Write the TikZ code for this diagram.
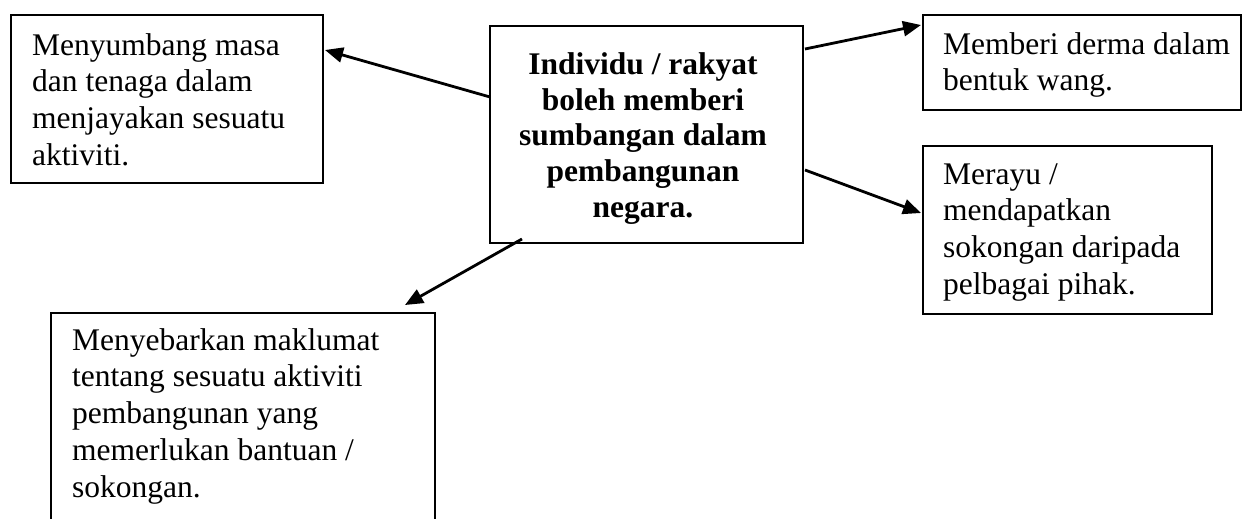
\documentclass[tikz,border=0pt]{standalone}
\usepackage{fontspec}
\setmainfont{Liberation Serif}
\usetikzlibrary{calc,arrows.meta}
\begin{document}
\begin{tikzpicture}[x=1pt,y=-1pt,
  boxnode/.style={draw=black,line width=2pt,inner sep=0pt,anchor=north west},
  txt/.style={inner sep=0pt,anchor=north west,align=left,font=\fontsize{31.5}{36.7}\selectfont},
  ctxt/.style={inner sep=0pt,anchor=north,align=center,font=\fontsize{31.5}{35.8}\selectfont\bfseries},
  arr/.style={line width=2.8pt,-{Triangle[length=18pt,width=15pt]}}]
\useasboundingbox[fill=white] (0,0) rectangle (1243,519);
% boxes
\node[boxnode,minimum width=312pt,minimum height=168pt] (L) at (10,14) {};
\node[boxnode,minimum width=313pt,minimum height=217pt] (C) at (489,25) {};
\node[boxnode,minimum width=318pt,minimum height=95pt] (RT) at (922,14) {};
\node[boxnode,minimum width=289pt,minimum height=168pt] (RM) at (922,145) {};
\node[boxnode,minimum width=384pt,minimum height=240pt] (B) at (50,312) {};
% texts
\node[txt] (Lt) at (32,30) {\rule{0pt}{25pt}Menyumbang masa\\dan tenaga dalam\\menjayakan sesuatu\\aktiviti.};
\node[ctxt] (Ct) at (643,49) {\rule{0pt}{25pt}Individu / rakyat\\boleh memberi\\sumbangan dalam\\pembangunan\\negara.};
\node[txt] (RTt) at (943,29) {\rule{0pt}{25pt}Memberi derma dalam\\bentuk wang.};
\node[txt] (RMt) at (943,159) {\rule{0pt}{25pt}Merayu /\\mendapatkan\\sokongan daripada\\pelbagai pihak.};
\node[txt] (Bt) at (72,325) {\rule{0pt}{25pt}Menyebarkan maklumat\\tentang sesuatu aktiviti\\pembangunan yang\\memerlukan bantuan /\\sokongan.};
% connectors
\draw[arr] ($(C.north west)+(1,72)$) -- ($(L.north east)+(1,36)$);
\draw[arr] ($(C.north east)+(1,24)$) -- ($(RT.north west)+(-1,11)$);
\draw[arr] ($(C.north east)+(1,145)$) -- ($(RM.north west)+(-1,68)$);
\draw[arr] ($(C.south west)+(33,-5)$) -- ($(B.north east)+(-31,-7)$);
\end{tikzpicture}
\end{document}
